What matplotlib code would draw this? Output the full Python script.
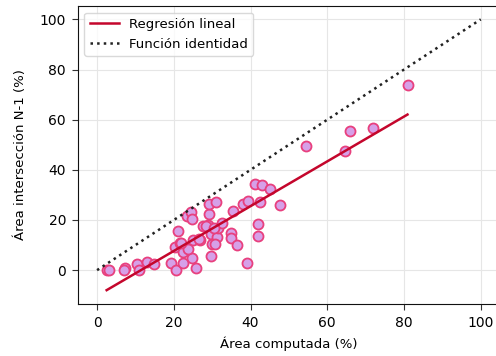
import matplotlib
matplotlib.use("Agg")
import matplotlib.pyplot as plt
import numpy as np

# Computed area vs. N-1 intersection area (%)
area_computada = [
    2.5, 3.1, 7.3, 7.1, 10.5, 10.9, 12.9, 14.9, 19.2, 20.6,
    21.2, 20.3, 21.6, 22.5, 22.3, 23.4, 24.4, 24.7, 24.7, 25.7,
    24.9, 23.6, 26.8, 27.5, 29.0, 29.3, 29.3, 30.9, 29.7, 29.9,
    29.6, 31.2, 30.7, 31.6, 32.5, 34.8, 34.8, 35.4, 36.4, 38.1,
    39.4, 39.0, 41.2, 43.1, 42.5, 45.1, 42.0, 42.0, 47.7, 54.4,
    64.6, 65.8, 71.9, 81.1, 28.4, 30.5, 22.0, 26.5,
]
area_interseccion = [
    0.0, 0.0, 1.0, 0.0, 2.4, 0.0, 3.4, 2.4, 3.0, 0.0,
    15.6, 9.4, 11.0, 7.4, 3.0, 21.6, 23.2, 20.4, 5.0, 1.0,
    12.0, 8.4, 12.0, 17.6, 18.0, 22.3, 26.3, 27.0, 14.3, 10.3,
    5.8, 13.1, 10.3, 16.7, 19.0, 14.7, 12.7, 23.7, 10.0, 26.4,
    27.5, 2.7, 34.4, 34.0, 27.0, 32.4, 18.3, 13.7, 26.0, 49.5,
    47.6, 55.4, 56.8, 73.7, 17.5, 17.0, 11.0, 12.5,
]

# Fitted regression endpoints (x range of the data)
reg_x = [2.5, 80.9]
reg_slope = 0.893
reg_intercept = -10.2

# Identity line
ident = [0, 100]

fig = plt.figure(figsize=(4.96, 3.56), dpi=100)
ax = fig.add_axes([0.157, 0.146, 0.851, 0.837])

ax.grid(True, color="#e6e6e6", linewidth=0.8, zorder=0)
ax.set_axisbelow(True)

ax.scatter(area_computada, area_interseccion, s=52, facecolor="#d6a0e8",
           edgecolor="#e8407e", linewidth=1.3, zorder=3)

rx = np.array(reg_x)
ax.plot(rx, reg_slope * rx + reg_intercept, color="#c4062c", linewidth=1.8,
        label="Regresión lineal", zorder=4)
ax.plot(ident, ident, color="#222222", linestyle=":", linewidth=1.8,
        label="Función identidad", zorder=4)

ax.set_xlim(-5, 105)
ax.set_ylim(-13.5, 105.3)
ax.set_xticks([0, 20, 40, 60, 80, 100])
ax.set_yticks([0, 20, 40, 60, 80, 100])
ax.tick_params(labelsize=10, length=4.5, pad=4, color="#333333")
for s in ax.spines.values():
    s.set_color("#111111")

ax.set_xlabel("Área computada (%)", fontsize=9.5, labelpad=5)
ax.set_ylabel("Área intersección N-1 (%)", fontsize=9.5, labelpad=9)

leg = ax.legend(loc="upper left", fontsize=9.5, frameon=True, fancybox=True,
                handlelength=2.2)
leg.get_frame().set_edgecolor("#d0d0d0")

fig.savefig("out.png", dpi=100)
